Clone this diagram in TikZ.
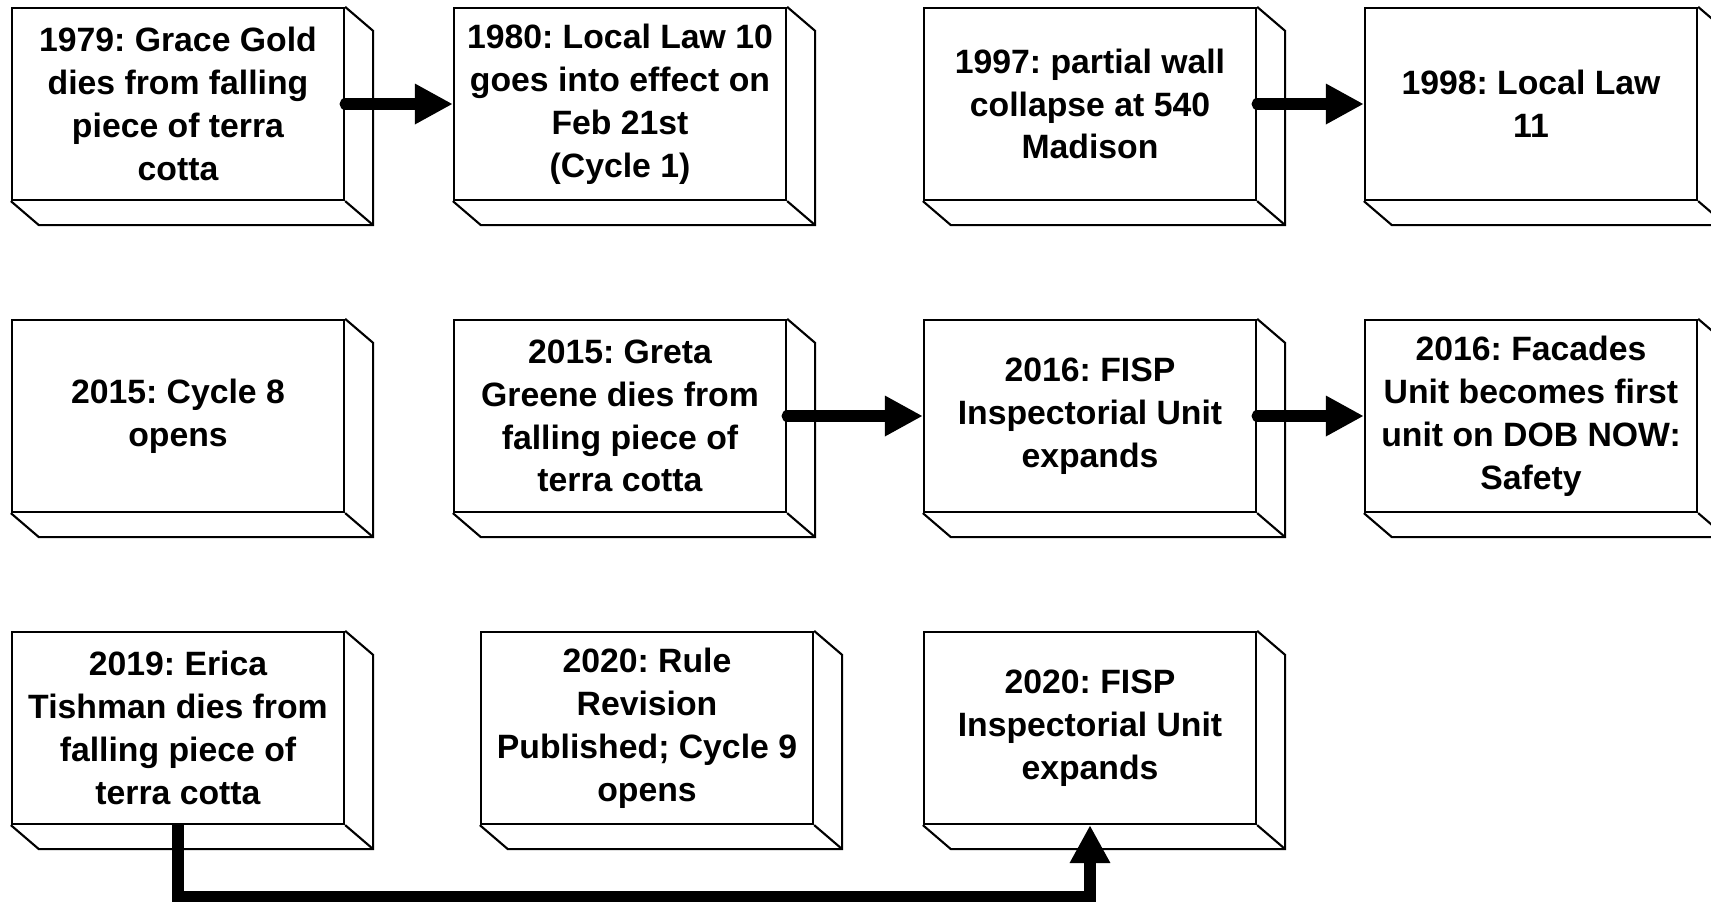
\documentclass[tikz,border=0pt]{standalone}
\usepackage{fontspec}
\setmainfont{Liberation Sans}
\usepackage{tikz}
\usetikzlibrary{arrows.meta, calc}
\frenchspacing

\tikzset{
  event/.style={rectangle, draw=black, line width=0.6pt, fill=white,
    minimum width=3.32cm, minimum height=1.92cm, inner sep=0pt,
    align=center, font=\fontsize{9.6pt}{12.2pt}\selectfont\bfseries},
  slab/.style={line width=0.6pt},
  flow/.style={line width=3.2pt, line cap=round,
    -{Triangle[length=10.8pt, width=10.8pt]}}
}

\begin{document}
\begin{tikzpicture}[x=0.01cm, y=-0.01cm]
\useasboundingbox (0,0) rectangle (1711,902);

% first row
\node[event] (gold)    at (178,104)  {1979: Grace Gold\\dies from falling\\piece of terra\\cotta};
\node[event] (lawten)  at (620,104)  {1980: Local Law 10\\goes into effect on\\Feb 21st\\(Cycle 1)};
\node[event] (madison) at (1090,104) {1997: partial wall\\collapse at 540\\Madison};
\node[event] (laweleven) at (1531,104) {1998: Local Law\\11};

% second row
\node[event] (cycleeight) at (178,416)  {2015: Cycle 8\\opens};
\node[event] (greene)     at (620,416)  {2015: Greta\\Greene dies from\\falling piece of\\terra cotta};
\node[event] (fispone)    at (1090,416) {2016: FISP\\Inspectorial Unit\\expands};
\node[event] (facades)    at (1531,416) {2016: Facades\\Unit becomes first\\unit on DOB NOW:\\Safety};

% third row
\node[event] (tishman) at (178,728)   {2019: Erica\\Tishman dies from\\falling piece of\\terra cotta};
\node[event] (rule)    at (647,728)   {2020: Rule\\Revision\\Published; Cycle 9\\opens};
\node[event] (fisptwo) at (1090,728)  {2020: FISP\\Inspectorial Unit\\expands};

% the 3d slabs
\foreach \n in {gold,lawten,madison,laweleven,cycleeight,greene,fispone,facades,tishman,rule,fisptwo} {
  \draw[slab] (\n.south west) -- ($(\n.south west)+(28,24)$) -- ($(\n.south east)+(28,24)$)
    -- ($(\n.north east)+(28,24)$) -- (\n.north east);
  \draw[slab] (\n.south east) -- ++(28,24);
}

% arrows
\draw[flow] (gold.east) -- (lawten.west);
\draw[flow] (madison.east) -- (laweleven.west);
\draw[flow] (greene.east) -- (fispone.west);
\draw[flow] (fispone.east) -- (facades.west);
\draw[flow, line cap=butt] (tishman.south) -- ++(0,71) -| (fisptwo.south);
\end{tikzpicture}
\end{document}
